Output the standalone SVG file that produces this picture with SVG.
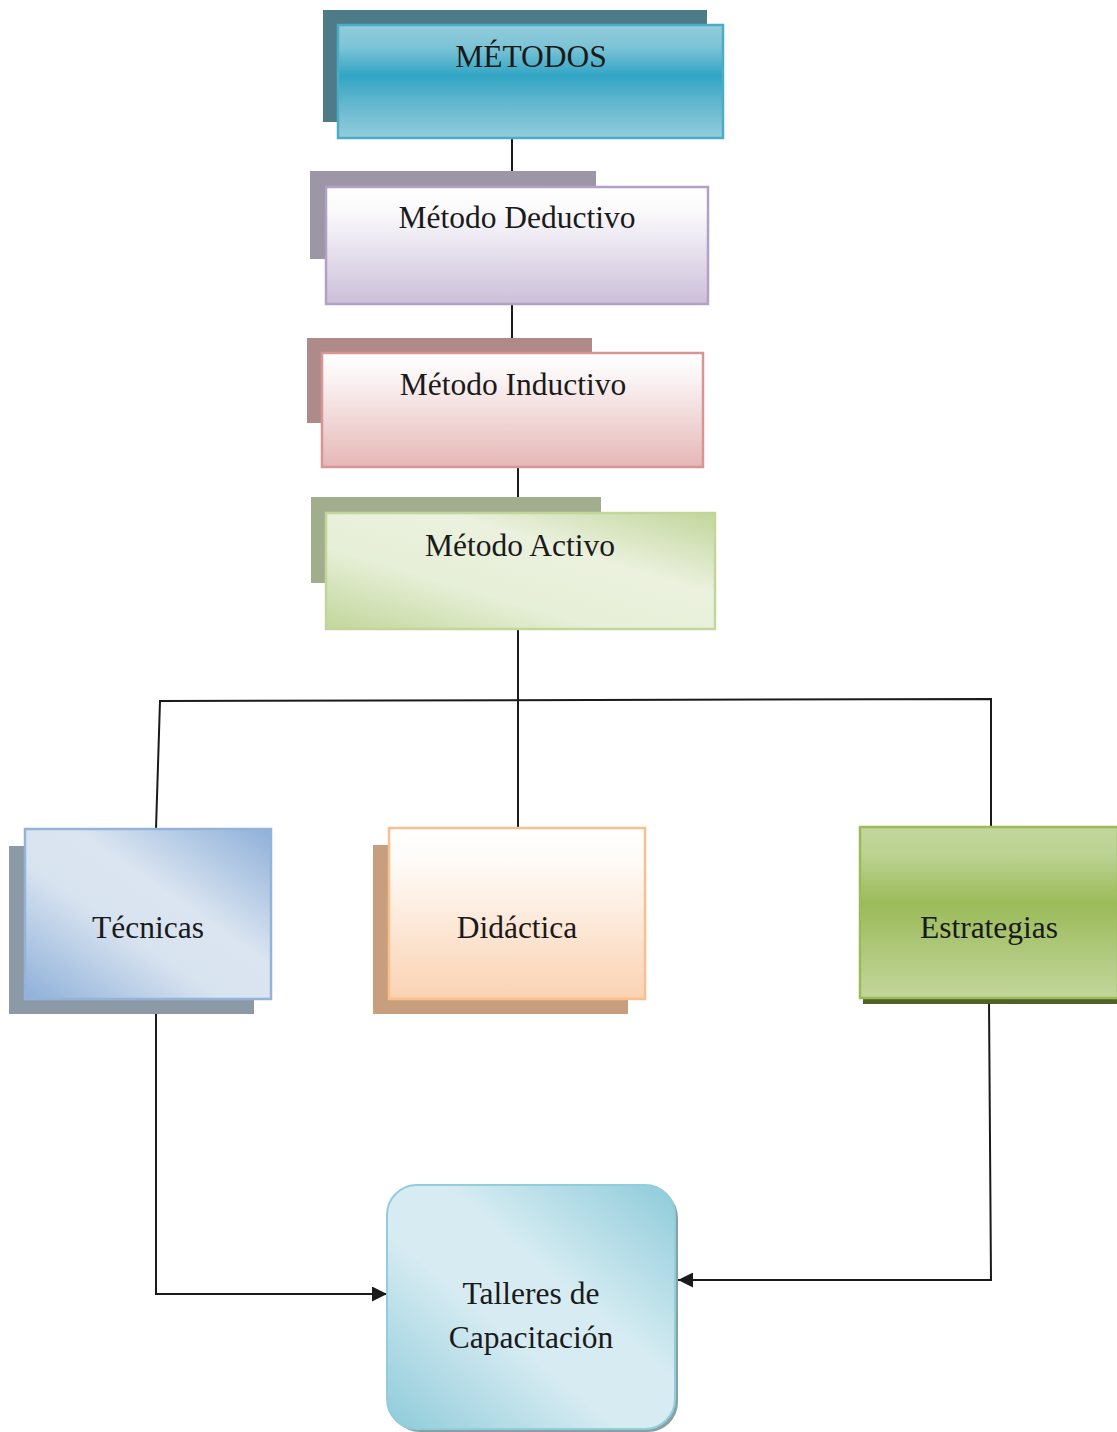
<svg xmlns="http://www.w3.org/2000/svg" width="1117" height="1432" viewBox="0 0 1117 1432">
<defs>
<linearGradient id="gMet" x1="0" y1="0" x2="0" y2="1">
<stop offset="0" stop-color="#92cddc"/><stop offset="0.2" stop-color="#7cc3d6"/><stop offset="0.45" stop-color="#31a5c5"/><stop offset="0.7" stop-color="#65b7cf"/><stop offset="1" stop-color="#92cddc"/>
</linearGradient>
<linearGradient id="gDed" x1="0" y1="0" x2="0" y2="1">
<stop offset="0" stop-color="#ffffff"/><stop offset="0.2" stop-color="#fbfafc"/><stop offset="1" stop-color="#ccbfd9"/>
</linearGradient>
<linearGradient id="gInd" x1="0" y1="0" x2="0" y2="1">
<stop offset="0" stop-color="#ffffff"/><stop offset="0.2" stop-color="#fbf5f5"/><stop offset="1" stop-color="#e5b7b6"/>
</linearGradient>
<linearGradient id="gAct" x1="1" y1="0" x2="0" y2="1">
<stop offset="0" stop-color="#c2d69b"/><stop offset="0.35" stop-color="#ebf1de"/><stop offset="0.65" stop-color="#e6efd7"/><stop offset="1" stop-color="#c2d69b"/>
</linearGradient>
<linearGradient id="gTec" x1="1" y1="0" x2="0" y2="1">
<stop offset="0" stop-color="#8eb0d9"/><stop offset="0.4" stop-color="#dbe5f1"/><stop offset="0.6" stop-color="#d8e3f0"/><stop offset="1" stop-color="#8eb0d9"/>
</linearGradient>
<linearGradient id="gDid" x1="0" y1="0" x2="0" y2="1">
<stop offset="0" stop-color="#ffffff"/><stop offset="0.2" stop-color="#fefbf8"/><stop offset="1" stop-color="#fad2b2"/>
</linearGradient>
<linearGradient id="gEst" x1="0" y1="0" x2="0" y2="1">
<stop offset="0" stop-color="#c2d69b"/><stop offset="0.15" stop-color="#bcd393"/><stop offset="0.45" stop-color="#9bbb59"/><stop offset="0.85" stop-color="#b8cf8b"/><stop offset="1" stop-color="#c2d69b"/>
</linearGradient>
<linearGradient id="gTal" x1="1" y1="0" x2="0" y2="1">
<stop offset="0" stop-color="#8ecbda"/><stop offset="0.4" stop-color="#d6ecf2"/><stop offset="0.6" stop-color="#d6ebf2"/><stop offset="1" stop-color="#8ecbda"/>
</linearGradient>
<marker id="arr" viewBox="0 0 10 10" refX="10" refY="5" markerWidth="16" markerHeight="15" markerUnits="userSpaceOnUse" orient="auto">
<path d="M0,0 L10,5 L0,10 z" fill="#1a1a1a"/>
</marker>
</defs>
<style>
text{font-family:"Liberation Serif","Times New Roman",serif;font-size:31.5px;fill:#1a1a1a;text-anchor:middle}
.ln{stroke:#1a1a1a;stroke-width:2;fill:none}
</style>
<g id="connectors">
<line class="ln" x1="512" y1="138" x2="512" y2="187"/>
<line class="ln" x1="512" y1="303" x2="512" y2="353"/>
<line class="ln" x1="518" y1="465" x2="518" y2="513"/>
<line class="ln" x1="518" y1="624" x2="518" y2="828"/>
<polyline class="ln" points="156,829 160,701 991,699 991,828"/>
<polyline class="ln" points="156,1010 156,1294 387,1294" marker-end="url(#arr)"/>
<polyline class="ln" points="989,1001 991,1280 678,1280" marker-end="url(#arr)"/>
</g>
<g id="metodos">
<rect x="323" y="10" width="384" height="112" fill="#4e7b87"/>
<rect x="338" y="25" width="385" height="113" fill="url(#gMet)" stroke="#4bacc6" stroke-width="2.5"/>
<text x="531" y="67">MÉTODOS</text>
</g>
<g id="deductivo">
<rect x="310" y="171" width="286" height="88" fill="#9d96a6"/>
<rect x="326" y="187" width="382" height="117" fill="url(#gDed)" stroke="#b2a1c7" stroke-width="2.5"/>
<text x="517" y="228">Método Deductivo</text>
</g>
<g id="inductivo">
<rect x="307" y="338" width="285" height="85" fill="#ae8b89"/>
<rect x="322" y="353" width="381" height="114" fill="url(#gInd)" stroke="#d99594" stroke-width="2.5"/>
<text x="513" y="395">Método Inductivo</text>
</g>
<g id="activo">
<rect x="311" y="497" width="290" height="86" fill="#a2ad8e"/>
<rect x="326" y="513" width="389" height="116" fill="url(#gAct)" stroke="#c2d69b" stroke-width="2.5"/>
<text x="520" y="556">Método Activo</text>
</g>
<g id="tecnicas">
<rect x="9" y="846" width="245" height="168" fill="#8c9aa8"/>
<rect x="25" y="829" width="246" height="170" fill="url(#gTec)" stroke="#95b3d7" stroke-width="2.5"/>
<text x="148" y="938">Técnicas</text>
</g>
<g id="didactica">
<rect x="373" y="845" width="255" height="169" fill="#c89f7c"/>
<rect x="389" y="828" width="256" height="171" fill="url(#gDid)" stroke="#fabf8f" stroke-width="2.5"/>
<text x="517" y="938">Didáctica</text>
</g>
<g id="estrategias">
<rect x="863" y="830" width="256" height="174" fill="#4f6228"/>
<rect x="860" y="827" width="258" height="171" fill="url(#gEst)" stroke="#9bbb59" stroke-width="2.5"/>
<text x="989" y="938">Estrategias</text>
</g>
<g id="talleres">
<rect x="390" y="1188" width="288" height="244" rx="30" fill="#8a9ea4"/>
<rect x="387" y="1185" width="288" height="244" rx="30" fill="url(#gTal)" stroke="#92cddc" stroke-width="2"/>
<text x="531" y="1304">Talleres de</text>
<text x="531" y="1348">Capacitación</text>
</g>
</svg>
